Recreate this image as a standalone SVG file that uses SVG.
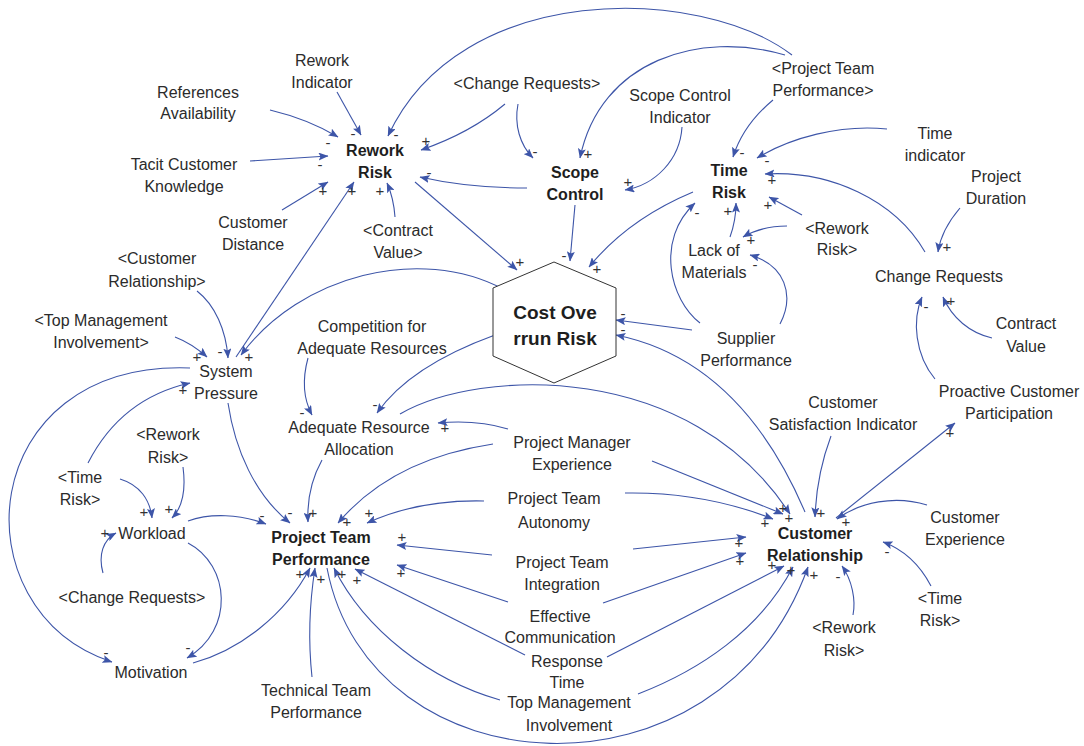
<svg xmlns="http://www.w3.org/2000/svg" width="1084" height="746" viewBox="0 0 1084 746">
<style>
text{font-family:"Liberation Sans",Arial,sans-serif;fill:#2b2b2b;text-anchor:middle}
.t{font-size:16px}
.b{font-size:16px;font-weight:bold;fill:#1e1e1e}
.h{font-size:19px;font-weight:bold;fill:#1e1e1e}
.s text{font-size:15px;fill:#333}
.c path{fill:none;stroke:#3d55a8;stroke-width:1.1;marker-end:url(#ah)}
</style>
<defs>
<marker id="ah" viewBox="0 0 10 8" refX="9.5" refY="4" markerWidth="10" markerHeight="8" markerUnits="userSpaceOnUse" orient="auto">
<path d="M0,0 L10,4 L0,8 L2,4 z" fill="#3d55a8"/>
</marker>
</defs>
<rect width="1084" height="746" fill="#fff"/>

<g id="connectors" class="c">
<path d="M270 110 C295 116,318 125,338 137"/>
<path d="M337 92 L361 135"/>
<path d="M250 161 L328 156"/>
<path d="M282 210 L328 182"/>
<path d="M236 357 L354 182"/>
<path d="M395 217 C394 203,391 192,387 183"/>
<path d="M505 104 C480 125,450 140,421 150"/>
<path d="M527 188 C490 188,455 185,420 177"/>
<path d="M792 55 C700 -15,460 -20,388 136"/>
<path d="M415 182 L517 270"/>
<path d="M518 104 C514 125,520 145,533 158"/>
<path d="M785 55 C700 30,600 60,580 158"/>
<path d="M682 127 C680 160,655 185,625 190"/>
<path d="M575 205 L570 261"/>
<path d="M773 100 C755 115,740 135,733 157"/>
<path d="M887 129 C840 124,790 138,757 158"/>
<path d="M925 252 C895 200,830 170,765 174"/>
<path d="M802 215 L769 197"/>
<path d="M960 208 C948 222,940 238,938 252"/>
<path d="M730 237 C734 226,736 215,736 203"/>
<path d="M787 226 C770 226,755 230,743 237"/>
<path d="M780 324 C795 295,785 265,750 255"/>
<path d="M700 323 C670 300,655 240,695 203"/>
<path d="M693 192 C650 210,615 235,589 267"/>
<path d="M692 330 L616 320"/>
<path d="M805 512 Q740 360,616 335"/>
<path d="M400 414 C480 368,690 360,790 514"/>
<path d="M652 461 L783 514"/>
<path d="M625 493 C680 492,730 502,773 519"/>
<path d="M831 436 C822 460,816 490,815 517"/>
<path d="M836 518 L955 423"/>
<path d="M927 505 C895 495,860 502,837 519"/>
<path d="M633 549 L746 537"/>
<path d="M603 603 L746 553"/>
<path d="M607 657 L784 566"/>
<path d="M638 694 C700 670,760 630,793 567"/>
<path d="M327 568 C370 792,720 812,808 567"/>
<path d="M853 615 C856 600,852 580,842 566"/>
<path d="M931 586 C920 565,905 550,883 542"/>
<path d="M935 379 C915 355,912 320,922 297"/>
<path d="M992 338 C970 333,952 318,943 297"/>
<path d="M495 335 C440 355,400 380,377 413"/>
<path d="M308 358 C302 380,304 400,312 415"/>
<path d="M508 429 C485 422,460 421,438 423"/>
<path d="M322 460 C312 478,307 500,308 522"/>
<path d="M503 289 C420 245,300 275,241 355"/>
<path d="M197 291 C215 305,226 330,228 358"/>
<path d="M175 337 C188 342,198 349,207 357"/>
<path d="M88 463 C110 420,145 393,190 383"/>
<path d="M190 368 C-25 360,-45 610,112 662"/>
<path d="M228 403 C235 450,255 495,290 523"/>
<path d="M120 479 C140 485,150 500,152 518"/>
<path d="M183 467 C186 490,182 508,172 518"/>
<path d="M103 573 C98 555,103 540,116 533"/>
<path d="M188 543 C230 565,235 630,187 658"/>
<path d="M193 663 C240 650,285 615,310 568"/>
<path d="M312 677 C308 640,310 600,315 568"/>
<path d="M188 521 C210 513,240 514,266 524"/>
<path d="M493 444 C420 455,370 485,338 523"/>
<path d="M484 501 C440 500,400 508,367 523"/>
<path d="M492 555 L397 545"/>
<path d="M508 602 L397 565"/>
<path d="M500 700 C430 680,365 630,334 568"/>
<path d="M525 655 L355 569"/>
</g>

<g id="polarities" class="s">
<text x="328" y="148">-</text>
<text x="353" y="139">-</text>
<text x="320" y="170">-</text>
<text x="323" y="196">+</text>
<text x="352" y="196">+</text>
<text x="380" y="196">+</text>
<text x="426" y="146">+</text>
<text x="429" y="178">-</text>
<text x="396" y="140">-</text>
<text x="535" y="157">-</text>
<text x="588" y="159">+</text>
<text x="628" y="187">+</text>
<text x="520" y="267">+</text>
<text x="564" y="261">-</text>
<text x="597" y="274">+</text>
<text x="623" y="319">-</text>
<text x="623" y="335">-</text>
<text x="742" y="158">-</text>
<text x="767" y="166">-</text>
<text x="772" y="185">+</text>
<text x="768" y="210">+</text>
<text x="728" y="216">+</text>
<text x="697" y="218">-</text>
<text x="751" y="245">+</text>
<text x="755" y="270">-</text>
<text x="947" y="252">+</text>
<text x="926" y="312">-</text>
<text x="951" y="306">+</text>
<text x="950" y="438">+</text>
<text x="220" y="357">-</text>
<text x="197" y="362">+</text>
<text x="249" y="362">+</text>
<text x="183" y="395">+</text>
<text x="375" y="410">-</text>
<text x="302" y="418">-</text>
<text x="445" y="433">+</text>
<text x="144" y="517">+</text>
<text x="169" y="514">+</text>
<text x="105" y="538">+</text>
<text x="106" y="658">-</text>
<text x="188" y="653">-</text>
<text x="262" y="521">-</text>
<text x="290" y="518">-</text>
<text x="313" y="518">+</text>
<text x="347" y="527">+</text>
<text x="369" y="518">+</text>
<text x="402" y="542">+</text>
<text x="401" y="578">+</text>
<text x="300" y="579">+</text>
<text x="321" y="584">+</text>
<text x="342" y="579">+</text>
<text x="357" y="585">+</text>
<text x="765" y="528">+</text>
<text x="783" y="513">+</text>
<text x="789" y="523">+</text>
<text x="821" y="518">+</text>
<text x="846" y="527">+</text>
<text x="739" y="548">+</text>
<text x="740" y="566">+</text>
<text x="772" y="570">+</text>
<text x="791" y="575">+</text>
<text x="814" y="580">+</text>
<text x="838" y="582">-</text>
<text x="887" y="557">-</text>
</g>

<g id="cost-overrun-risk">
<polygon points="554,262 616,288 616,356 554,383 493,356 493,288" fill="#fff" stroke="#333" stroke-width="1"/>
<text class="h" x="555" y="319">Cost Ove</text>
<text class="h" x="555" y="345">rrun Risk</text>
</g>
<g id="rework-risk"><text class="b" x="375" y="156">Rework</text><text class="b" x="375" y="178">Risk</text></g>
<g id="scope-control"><text class="b" x="575" y="178">Scope</text><text class="b" x="575" y="200">Control</text></g>
<g id="time-risk"><text class="b" x="729" y="176">Time</text><text class="b" x="729" y="198">Risk</text></g>
<g id="project-team-performance"><text class="b" x="321" y="543">Project Team</text><text class="b" x="321" y="565">Performance</text></g>
<g id="customer-relationship"><text class="b" x="815" y="539">Customer</text><text class="b" x="815" y="561">Relationship</text></g>

<g id="rework-indicator"><text class="t" x="322" y="66">Rework</text><text class="t" x="322" y="88">Indicator</text></g>
<g id="references-availability"><text class="t" x="198" y="98">References</text><text class="t" x="198" y="119">Availability</text></g>
<g id="tacit-customer-knowledge"><text class="t" x="184" y="170">Tacit Customer</text><text class="t" x="184" y="192">Knowledge</text></g>
<g id="customer-distance"><text class="t" x="253" y="228">Customer</text><text class="t" x="253" y="250">Distance</text></g>
<g id="contract-value-shadow"><text class="t" x="398" y="236">&lt;Contract</text><text class="t" x="398" y="258">Value&gt;</text></g>
<g id="change-requests-shadow-top"><text class="t" x="527" y="89">&lt;Change Requests&gt;</text></g>
<g id="scope-control-indicator"><text class="t" x="680" y="101">Scope Control</text><text class="t" x="680" y="123">Indicator</text></g>
<g id="project-team-performance-shadow"><text class="t" x="823" y="74">&lt;Project Team</text><text class="t" x="823" y="96">Performance&gt;</text></g>
<g id="time-indicator"><text class="t" x="935" y="139">Time</text><text class="t" x="935" y="161">indicator</text></g>
<g id="project-duration"><text class="t" x="996" y="182">Project</text><text class="t" x="996" y="204">Duration</text></g>
<g id="rework-risk-shadow-right"><text class="t" x="837" y="234">&lt;Rework</text><text class="t" x="837" y="255">Risk&gt;</text></g>
<g id="lack-of-materials"><text class="t" x="714" y="256">Lack of</text><text class="t" x="714" y="278">Materials</text></g>
<g id="change-requests"><text class="t" x="939" y="282">Change Requests</text></g>
<g id="contract-value"><text class="t" x="1026" y="329">Contract</text><text class="t" x="1026" y="352">Value</text></g>
<g id="supplier-performance"><text class="t" x="746" y="344">Supplier</text><text class="t" x="746" y="366">Performance</text></g>
<g id="proactive-customer-participation"><text class="t" x="1009" y="397">Proactive Customer</text><text class="t" x="1009" y="419">Participation</text></g>
<g id="customer-satisfaction-indicator"><text class="t" x="843" y="408">Customer</text><text class="t" x="843" y="430">Satisfaction Indicator</text></g>
<g id="customer-relationship-shadow"><text class="t" x="157" y="264">&lt;Customer</text><text class="t" x="157" y="287">Relationship&gt;</text></g>
<g id="top-management-involvement-shadow"><text class="t" x="101" y="326">&lt;Top Management</text><text class="t" x="101" y="348">Involvement&gt;</text></g>
<g id="system-pressure"><text class="t" x="226" y="377">System</text><text class="t" x="226" y="399">Pressure</text></g>
<g id="competition-for-adequate-resources"><text class="t" x="372" y="332">Competition for</text><text class="t" x="372" y="354">Adequate Resources</text></g>
<g id="adequate-resource-allocation"><text class="t" x="359" y="433">Adequate Resource</text><text class="t" x="359" y="455">Allocation</text></g>
<g id="project-manager-experience"><text class="t" x="572" y="448">Project Manager</text><text class="t" x="572" y="470">Experience</text></g>
<g id="rework-risk-shadow-left"><text class="t" x="168" y="440">&lt;Rework</text><text class="t" x="168" y="463">Risk&gt;</text></g>
<g id="time-risk-shadow-left"><text class="t" x="80" y="483">&lt;Time</text><text class="t" x="80" y="505">Risk&gt;</text></g>
<g id="workload"><text class="t" x="152" y="539">Workload</text></g>
<g id="project-team-autonomy"><text class="t" x="554" y="504">Project Team</text><text class="t" x="554" y="528">Autonomy</text></g>
<g id="project-team-integration"><text class="t" x="562" y="568">Project Team</text><text class="t" x="562" y="590">Integration</text></g>
<g id="effective-communication"><text class="t" x="560" y="622">Effective</text><text class="t" x="560" y="643">Communication</text></g>
<g id="response-time"><text class="t" x="567" y="667">Response</text><text class="t" x="567" y="688">Time</text></g>
<g id="top-management-involvement"><text class="t" x="569" y="708">Top Management</text><text class="t" x="569" y="731">Involvement</text></g>
<g id="customer-experience"><text class="t" x="965" y="523">Customer</text><text class="t" x="965" y="545">Experience</text></g>
<g id="time-risk-shadow-right"><text class="t" x="940" y="604">&lt;Time</text><text class="t" x="940" y="626">Risk&gt;</text></g>
<g id="rework-risk-shadow-bottom"><text class="t" x="844" y="633">&lt;Rework</text><text class="t" x="844" y="656">Risk&gt;</text></g>
<g id="change-requests-shadow-left"><text class="t" x="132" y="603">&lt;Change Requests&gt;</text></g>
<g id="motivation"><text class="t" x="151" y="678">Motivation</text></g>
<g id="technical-team-performance"><text class="t" x="316" y="696">Technical Team</text><text class="t" x="316" y="718">Performance</text></g>
</svg>
